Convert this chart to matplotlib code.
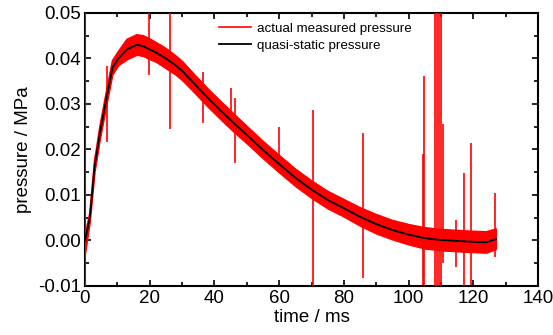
import numpy as np
import matplotlib.pyplot as plt
from matplotlib.ticker import MultipleLocator, FormatStrFormatter

plt.rcParams['font.family'] = ['Liberation Sans', 'DejaVu Sans']
plt.rcParams['axes.unicode_minus'] = False

# quasi-static pressure
t = [0, 1.5, 3, 3.6, 4.6, 6.7, 8.5, 10.3, 13, 16, 18, 20, 22, 25, 28, 30, 34, 38, 42, 46,
     50, 55, 60, 65, 70, 75, 80, 85, 90, 95, 100, 105, 110, 115, 120, 124, 127]
p = [0, 0.005, 0.0165, 0.019, 0.0236, 0.0315, 0.038, 0.040, 0.042, 0.043, 0.0427, 0.042,
     0.0413, 0.040, 0.0385, 0.0373, 0.0343, 0.0313, 0.0285, 0.0258, 0.0232, 0.0199, 0.0168,
     0.0138, 0.0112, 0.0089, 0.0071, 0.0052, 0.0036, 0.0023, 0.0013, 0.0005, 0.0001, -0.0001,
     -0.0003, -0.0004, 0.0003]
# measured pressure band (upper / lower envelope)
red_hi = [0.001, 0.006, 0.0178, 0.0203, 0.025, 0.033, 0.0395, 0.0415, 0.0442, 0.0452, 0.045,
          0.0443, 0.0435, 0.0422, 0.0406, 0.0394, 0.0363, 0.0333, 0.0305, 0.0278, 0.0251,
          0.0218, 0.0187, 0.0157, 0.0131, 0.0108, 0.009, 0.0072, 0.0057, 0.0044, 0.0035,
          0.0028, 0.0024, 0.0022, 0.0020, 0.0019, 0.0025]
red_lo = [-0.003, 0.004, 0.0152, 0.0177, 0.0222, 0.030, 0.0365, 0.0385, 0.0398, 0.0408,
          0.0405, 0.0398, 0.0392, 0.0378, 0.0364, 0.0352, 0.0323, 0.0293, 0.0265, 0.0238,
          0.0213, 0.018, 0.0149, 0.0119, 0.0093, 0.007, 0.0052, 0.0032, 0.0015, 0.0002,
          -0.0009, -0.0018, -0.0022, -0.0024, -0.0026, -0.0027, -0.0019]
# single-sample spikes in the measured signal
spike_t = [0.1, 6.7, 19.8, 26.3, 36.6, 45.0, 46.3, 60.0, 70.3, 85.8, 104.4, 104.9,
           108.1, 108.7, 109.4, 110.0, 110.5, 114.5, 117.2, 119.3, 126.7]
spike_lo = [-0.01, 0.0217, 0.0364, 0.0245, 0.0258, 0.025, 0.017, 0.0155, -0.01, -0.0083,
            -0.0098, -0.0098, -0.01, -0.01, -0.01, -0.01, -0.005, -0.0058, -0.01, -0.0098,
            -0.0036]
spike_hi = [0.05, 0.0384, 0.05, 0.05, 0.0371, 0.0335, 0.0313, 0.025, 0.0287, 0.0236,
            0.019, 0.0362, 0.05, 0.05, 0.05, 0.05, 0.0255, 0.0045, 0.0148, 0.0214, 0.0104]

fig = plt.figure(figsize=(5.53, 3.35), dpi=100)
ax = fig.add_axes([0.1537, 0.1463, 0.8193, 0.8149])

ax.fill_between(t, red_lo, red_hi, color='red', lw=0.8, zorder=3)
ax.vlines(spike_t, spike_lo, spike_hi, color='red', lw=1.2, zorder=3)
ax.plot(t, red_hi, color='red', lw=1.2, label='actual measured pressure', zorder=3)
ax.plot(t, p, color='black', lw=1.3, label='quasi-static pressure', zorder=4)

ax.set_xlim(0, 140)
ax.set_ylim(-0.01, 0.05)
ax.xaxis.set_major_locator(MultipleLocator(20))
ax.xaxis.set_minor_locator(MultipleLocator(10))
ax.yaxis.set_major_locator(MultipleLocator(0.01))
ax.yaxis.set_minor_locator(MultipleLocator(0.005))
ax.yaxis.set_major_formatter(FormatStrFormatter('%.2f'))
ax.tick_params(which='both', direction='in', top=True, right=True, labelsize=13.5, pad=3)
ax.tick_params(which='major', length=4, width=1.2)
ax.tick_params(which='minor', length=3, width=1.2)
for s in ax.spines.values():
    s.set_linewidth(1.5)
ax.set_xlabel('time / ms', fontsize=13.5, labelpad=1)
ax.set_ylabel('pressure / MPa', fontsize=13.5, labelpad=4)
ax.legend(loc='upper left', bbox_to_anchor=(0.27, 1.01), frameon=False, fontsize=9.6,
          handlelength=2.4, handletextpad=0.4, labelspacing=0.35)

plt.savefig('out.png', dpi=100)
